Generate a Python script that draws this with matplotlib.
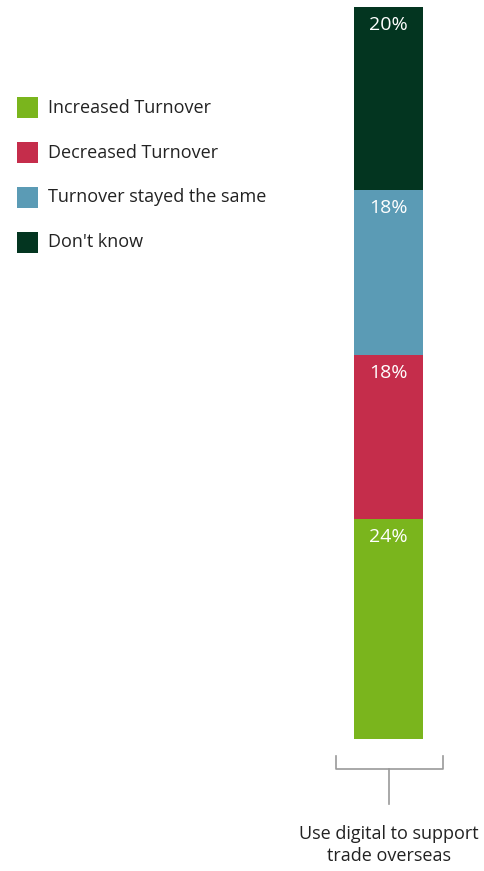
import matplotlib.pyplot as plt
from matplotlib.patches import Rectangle

plt.rcParams['font.family'] = ['Open Sans', 'DejaVu Sans']

category = 'Use digital to support\ntrade overseas'
labels = ['Increased Turnover', 'Decreased Turnover', 'Turnover stayed the same', "Don't know"]
values = [24, 18, 18, 20]
colors = ['#7ab51d', '#c52d4b', '#5b9bb5', '#033520']

W, H = 485, 871
fig = plt.figure(figsize=(W / 100, H / 100), dpi=100)

# overlay in pixel coordinates for legend + bracket
over = fig.add_axes([0, 0, 1, 1])
over.set_xlim(0, W)
over.set_ylim(H, 0)
over.axis('off')

# stacked bar
bx0, bx1, by0, by1 = 354, 423, 7, 739
ax = fig.add_axes([bx0 / W, 1 - by1 / H, (bx1 - bx0) / W, (by1 - by0) / H])
bottom = 0
for v, c in zip(values, colors):
    ax.bar(0, v, bottom=bottom, color=c, width=1, linewidth=0)
    ax.text(0, bottom + v - 1.95, f'{v}%', ha='center', va='center',
            color='white', fontsize=14)
    bottom += v
ax.set_xlim(-0.5, 0.5)
ax.set_ylim(0, sum(values))
ax.axis('off')

# legend
for i, (lab, c) in enumerate(zip(labels, colors)):
    y = 108 + i * 44.7
    over.add_patch(Rectangle((17, y - 10.5), 21, 21, color=c, linewidth=0))
    over.text(48, y, lab, va='center', ha='left', fontsize=13, color='#222222')

# category bracket
gray = '#9a9a9a'
over.plot([336, 336, 443, 443], [756, 769, 769, 756], color=gray, lw=1.2)
over.plot([389, 389], [769, 804], color=gray, lw=1.2)
over.text(389, 845, category, ha='center', va='center', fontsize=13,
          color='#222222', linespacing=1.3)

fig.savefig('out.png', dpi=100)
